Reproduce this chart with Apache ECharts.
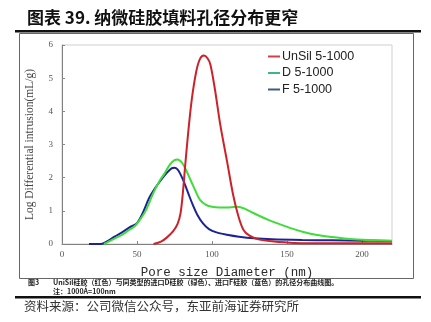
<!DOCTYPE html>
<html>
<head>
<meta charset="utf-8">
<script src="https://cdn.jsdelivr.net/npm/echarts@6/dist/echarts.min.js"></script>
<style>
  html, body { margin: 0; padding: 0; background: #fff; }
  #chart { width: 431px; height: 322px; }
</style>
</head>
<body>
<div id="chart"></div>
<script>
// Pore size distribution curves (x: pore diameter in nm, y: log differential intrusion)
const seriesNames = ['UnSil 5-1000', 'D 5-1000', 'F 5-1000'];

const unsilX = [61, 66, 70, 74, 77, 79, 80.5, 82, 84, 86.5, 89.5, 92, 94.5, 97, 99, 102, 105.5, 110, 114, 117.5, 121, 125, 131, 140, 155, 180, 220];
const unsilY = [0, 0.07, 0.2, 0.38, 0.6, 0.92, 1.5, 2.3, 3.3, 4.35, 5.2, 5.58, 5.68, 5.6, 5.4, 4.65, 3.6, 2.5, 1.5, 0.85, 0.42, 0.25, 0.14, 0.08, 0.03, 0.02, 0.02];

const dX = [28, 33, 39, 44, 49, 53, 56, 61, 65, 68, 72, 75, 77, 80, 83, 86, 89, 92, 96, 100, 105, 110, 116, 121, 126, 131, 138, 145, 153, 161, 170, 180, 190, 200, 210, 220];
const dY = [0, 0.12, 0.25, 0.4, 0.56, 0.8, 1.02, 1.55, 1.9, 2.1, 2.4, 2.53, 2.55, 2.45, 2.2, 1.9, 1.6, 1.33, 1.18, 1.12, 1.1, 1.1, 1.12, 1.08, 0.97, 0.86, 0.72, 0.6, 0.47, 0.36, 0.27, 0.21, 0.16, 0.13, 0.11, 0.1];

const fX = [18, 26, 30, 35, 40, 45, 50, 54, 58, 62, 66, 70, 73, 75, 77, 79, 81, 84, 87, 90, 94, 98, 103, 110, 118, 128, 140, 160, 180, 200, 220];
const fY = [0, 0, 0.08, 0.22, 0.35, 0.5, 0.63, 0.95, 1.38, 1.68, 1.93, 2.15, 2.28, 2.3, 2.25, 2.1, 1.9, 1.55, 1.2, 0.9, 0.62, 0.45, 0.35, 0.28, 0.22, 0.17, 0.14, 0.12, 0.11, 0.1, 0.09];

const xTicks = [0, 50, 100, 150, 200];
const yTicks = [0, 1, 2, 3, 4, 5, 6];

const lineColors = ['#cc2229', '#3fdc3a', '#1c2396'];
const legendColors = ['#d0404a', '#3fb585', '#3f5a86'];

const chartTitle = '图表 39. 纳微硅胶填料孔径分布更窄';
const captionLine1 = 'UniSil硅胶（红色）与同类型的进口D硅胶（绿色）、进口F硅胶（蓝色）的孔径分布曲线图。';
const captionLine2 = '注：1000Å=100nm';
const figureLabel = '图3';
const sourceText = '资料来源：公司微信公众号，东亚前海证券研究所';

function pairs(xs, ys) { return xs.map((x, i) => [x, ys[i]]); }

const chart = echarts.init(document.getElementById('chart'), null, { renderer: 'canvas' });

const serifFont = '"Liberation Serif", "DejaVu Serif", serif';

chart.setOption({
  backgroundColor: '#ffffff',
  animation: false,
  grid: {
    left: 62, top: 45, right: 39, bottom: 78,
    show: true, borderColor: '#cfcfcf', borderWidth: 1, backgroundColor: 'transparent'
  },
  legend: {
    orient: 'vertical',
    left: 263, top: 45,
    icon: 'rect', itemWidth: 12, itemHeight: 2, itemGap: 3.5,
    textStyle: { fontFamily: '"Liberation Sans", Arial, sans-serif', fontSize: 12.5, color: '#222', padding: [0, 0, 0, -3] },
    data: seriesNames.map((n, i) => ({ name: n, itemStyle: { color: legendColors[i] } }))
  },
  xAxis: {
    type: 'value', min: 0, max: 220, interval: 50,
    name: 'Pore size Diameter (nm)', nameLocation: 'middle', nameGap: 22,
    nameTextStyle: { fontFamily: '"Liberation Mono", "DejaVu Sans Mono", monospace', fontSize: 12.5, color: '#2a2a2a' },
    axisLine: { show: true, onZero: false, lineStyle: { color: '#808080', width: 1 } },
    axisTick: { show: true, inside: true, length: 3, lineStyle: { color: '#888' }, customValues: xTicks },
    axisLabel: { fontFamily: serifFont, fontSize: 9, color: '#555', margin: 6, customValues: xTicks },
    splitLine: { show: false }
  },
  yAxis: {
    type: 'value', min: 0, max: 6, interval: 1,
    name: 'Log Differential intrusion(mL/g)', nameLocation: 'middle', nameGap: 26, nameRotate: 90,
    nameTextStyle: { fontFamily: serifFont, fontSize: 11.5, color: '#444' },
    axisLine: { show: true, lineStyle: { color: '#808080', width: 1 } },
    axisTick: { show: true, inside: true, length: 3, lineStyle: { color: '#888' }, customValues: yTicks },
    axisLabel: { fontFamily: serifFont, fontSize: 9, color: '#555', margin: 9, customValues: yTicks },
    splitLine: { show: false }
  },
  series: [
    { name: seriesNames[0], data: pairs(unsilX, unsilY) },
    { name: seriesNames[1], data: pairs(dX, dY) },
    { name: seriesNames[2], data: pairs(fX, fY) }
  ].map((s, i) => Object.assign(s, {
    type: 'line', smooth: 0.3, showSymbol: false, symbol: 'none',
    lineStyle: { color: lineColors[i], width: 2 }, itemStyle: { color: lineColors[i] },
    z: 3 - i
  })),
  graphic: [
    // figure frame
    { type: 'rect', shape: { x: 19.5, y: 33.5, width: 394, height: 245 }, style: { fill: 'none', stroke: '#666', lineWidth: 1 }, z: 0, silent: true },
    // title
    { type: 'text', left: 27, top: 9, style: { text: chartTitle, font: 'bold 17px "Noto Sans CJK SC", sans-serif', fill: '#111' } },
    // rule under title
    { type: 'rect', shape: { x: 15, y: 30, width: 406, height: 2.5 }, style: { fill: '#111' } },
    // figure caption
    { type: 'text', left: 28, top: 279, style: { text: figureLabel, font: 'bold 7px "Noto Sans CJK SC", sans-serif', fill: '#222' } },
    { type: 'text', left: 53, top: 279, style: { text: captionLine1, font: 'bold 7px "Noto Sans CJK SC", sans-serif', fill: '#222' } },
    { type: 'text', left: 53, top: 288, style: { text: captionLine2, font: 'bold 7px "Noto Sans CJK SC", sans-serif', fill: '#222' } },
    // rule above source
    { type: 'rect', shape: { x: 15, y: 296, width: 406, height: 2.5 }, style: { fill: '#111' } },
    // source note
    { type: 'text', left: 24, top: 300, style: { text: sourceText, font: '12.5px "Noto Sans CJK SC", sans-serif', fill: '#333' } }
  ]
});
</script>
</body>
</html>
